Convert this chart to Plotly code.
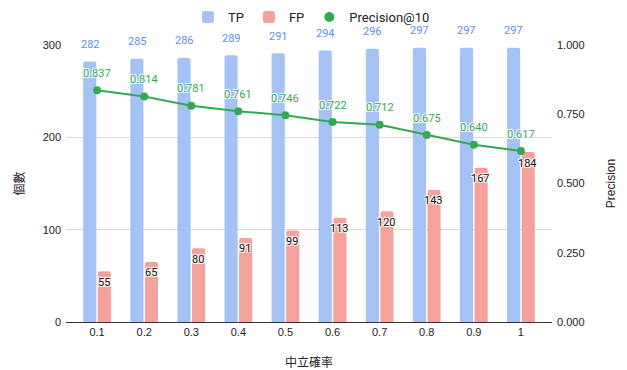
import plotly.graph_objects as go

# Threshold categories and per-threshold counts / precision
thresholds = ["0.1", "0.2", "0.3", "0.4", "0.5", "0.6", "0.7", "0.8", "0.9", "1"]
tp_counts = [282, 285, 286, 289, 291, 294, 296, 297, 297, 297]
fp_counts = [55, 65, 80, 91, 99, 113, 120, 143, 167, 184]
precision_at_10 = [0.837, 0.814, 0.781, 0.761, 0.746, 0.722, 0.712, 0.675, 0.640, 0.617]

TP_COLOR = "#a4c2f4"
FP_COLOR = "#f4a39c"
LINE_COLOR = "#34a853"
TP_LABEL = "#5b8ff0"
HALO = "-1px -1px 0 #fff, 1px -1px 0 #fff, -1px 1px 0 #fff, 1px 1px 0 #fff"
TICK_FONT = dict(family="Liberation Sans, Arial, sans-serif", size=11, color="#222222")
LABEL_FAMILY = "Roboto, Arial, sans-serif"

fig = go.Figure()

fig.add_trace(go.Bar(
    x=thresholds, y=tp_counts, name="TP",
    marker=dict(color=TP_COLOR, line=dict(width=0), cornerradius=2),
    yaxis="y",
))
fig.add_trace(go.Bar(
    x=thresholds, y=fp_counts, name="FP",
    marker=dict(color=FP_COLOR, line=dict(width=0), cornerradius=2),
    yaxis="y",
))
fig.add_trace(go.Scatter(
    x=thresholds, y=precision_at_10, name="Precision@10",
    mode="lines+markers",
    line=dict(color=LINE_COLOR, width=2),
    marker=dict(color=LINE_COLOR, size=8),
    yaxis="y2", showlegend=False,
))
# legend entry for the line series shown as a plain dot
fig.add_trace(go.Scatter(
    x=[None], y=[None], name="Precision@10", mode="markers",
    marker=dict(color=LINE_COLOR, size=10), yaxis="y2",
))

# value labels; category positions are addressed by index
annotations = []
for i, v in enumerate(tp_counts):
    annotations.append(dict(
        x=i, y=v, xref="x", yref="y", text=str(v), showarrow=False,
        xshift=-7, yshift=17,
        font=dict(family=LABEL_FAMILY, size=11, color=TP_LABEL, shadow=HALO),
    ))
for i, v in enumerate(fp_counts):
    annotations.append(dict(
        x=i, y=v, xref="x", yref="y", text=str(v), showarrow=False,
        xshift=7, yshift=-11,
        font=dict(family=LABEL_FAMILY, size=11, color="#111111", shadow=HALO),
    ))
for i, v in enumerate(precision_at_10):
    annotations.append(dict(
        x=i, y=v, xref="x", yref="y2", text=f"{v:.3f}", showarrow=False,
        yshift=17,
        font=dict(family=LABEL_FAMILY, size=11, color=LINE_COLOR, shadow=HALO),
    ))

fig.update_layout(
    width=627, height=370,
    margin=dict(l=66, r=75, t=45, b=48, autoexpand=False),
    paper_bgcolor="white", plot_bgcolor="white",
    barmode="group", bargap=0.38, bargroupgap=0.1,
    font=dict(family="Liberation Sans, Arial, sans-serif", color="#222222"),
    legend=dict(
        orientation="h", x=0.505, xanchor="center", y=1 - 17 / 370, yanchor="middle",
        yref="container", font=dict(family=LABEL_FAMILY, size=13, color="#222222"),
        traceorder="normal", itemwidth=30,
    ),
    xaxis=dict(
        type="category", range=[-0.66, 9.66],
        tickfont=TICK_FONT, showgrid=False, ticks="",
        showline=True, linecolor="#333333", linewidth=1,
        title=dict(text="中立確率", font=dict(family="Noto Sans CJK TC", size=12, color="#222222"),
                   standoff=22),
    ),
    yaxis=dict(
        range=[0, 300], dtick=100, tickfont=TICK_FONT,
        showgrid=True, gridcolor="#d9d9d9", gridwidth=1,
        zeroline=False, ticks="", ticklabelstandoff=4,
        title=dict(text="個數", font=dict(family="Noto Sans CJK TC", size=12, color="#222222"),
                   standoff=15),
    ),
    yaxis2=dict(
        overlaying="y", side="right", range=[0, 1],
        tickvals=[0, 0.25, 0.5, 0.75, 1], tickformat=".3f",
        tickfont=TICK_FONT, showgrid=False, zeroline=False, ticks="",
        ticklabelstandoff=4,
        title=dict(text="Precision", font=dict(family="Liberation Sans, Arial, sans-serif", size=12, color="#222222"),
                   standoff=23),
    ),
    annotations=annotations,
)

fig.write_html("out.html")
